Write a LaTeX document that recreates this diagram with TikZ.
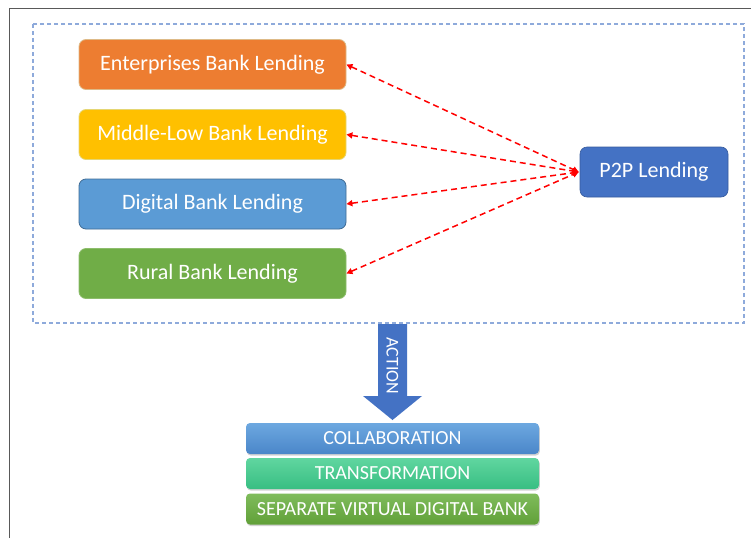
\documentclass[tikz,border=0pt]{standalone}
\usepackage{fontspec}
\setmainfont{Carlito}
\usetikzlibrary{arrows.meta,shadows}
\definecolor{cOrange}{HTML}{ED7D31}
\definecolor{cGold}{HTML}{FFC000}
\definecolor{cBlue}{HTML}{5B9BD5}
\definecolor{cGreen}{HTML}{70AD47}
\definecolor{cDark}{HTML}{4472C4}
\definecolor{cDash}{HTML}{8EAADB}
\definecolor{colTop}{HTML}{6DA8E0}
\definecolor{colBot}{HTML}{4A86C9}
\definecolor{traTop}{HTML}{60D6A0}
\definecolor{traBot}{HTML}{38BE82}
\definecolor{sepTop}{HTML}{80BC5C}
\definecolor{sepBot}{HTML}{60A038}
\tikzset{
  lend/.style={draw=#1!70!cGreen!60!white, line width=0.8pt, fill=#1, rounded corners=7pt,
    minimum width=267pt, minimum height=50pt, text=white, font=\fontsize{22}{26}\selectfont, inner sep=0pt},
  pp/.style={draw=cDark!80!black, line width=0.6pt, fill=cDark, rounded corners=7pt,
    minimum width=148pt, minimum height=50pt, text=white, font=\fontsize{22}{26}\selectfont, inner sep=0pt},
  act/.style={rounded corners=4pt, minimum width=293pt, minimum height=31pt, text=white,
    font=\fontsize{20}{24}\selectfont, inner sep=0pt, drop shadow={shadow xshift=0.8pt, shadow yshift=-1.6pt, opacity=0.35}},
  link/.style={red, line width=1.5pt, dash pattern=on 6pt off 4pt, {Triangle[length=6pt,width=6pt]}-{Triangle[length=6pt,width=6pt]}},
}
\begin{document}
\begin{tikzpicture}[x=1pt,y=-1pt]
\useasboundingbox (0,0) rectangle (751,538);
\fill[white] (0,0) rectangle (751,538);
% outer frame
\draw[gray!70!black, line width=1pt] (9,538) -- (9,8) -- (751,8);
% dashed frame
\draw[cDash, line width=1.1pt, dash pattern=on 4pt off 3pt] (33,24) rectangle (744,323);
% lending boxes
\node[lend=cOrange] (ent) at (212.5,64.5) {Enterprises Bank Lending};
\node[lend=cGold] (mid) at (212.5,134.5) {Middle-Low Bank Lending};
\node[lend=cBlue, draw=cBlue!70!black] (dig) at (212.5,204) {Digital Bank Lending};
\node[lend=cGreen, draw=cGreen!80!white] (rur) at (212.5,273.5) {Rural Bank Lending};
\node[pp] (p2p) at (654,172) {P2P Lending};
\coordinate (hub) at ([xshift=-1pt]p2p.west);
\draw[link] (ent.east) -- (hub);
\draw[link] (mid.east) -- (hub);
\draw[link] (dig.east) -- (hub);
\draw[link] (rur.east) -- (hub);
% ACTION arrow
\fill[cDark] (378,324) -- (407,324) -- (407,396) -- (422,396) -- (392.5,420) -- (363,396) -- (378,396) -- cycle;
\node[rotate=-90, text=white, font=\fontsize{18}{21}\selectfont, inner sep=0pt] (action) at (392.5,366) {ACTION};
% result boxes
\node[act, top color=colTop, bottom color=colBot] (col) at (392.5,438.5) {COLLABORATION};
\node[act, top color=traTop, bottom color=traBot] (tra) at (392.5,473.5) {TRANSFORMATION};
\node[act, top color=sepTop, bottom color=sepBot] (sep) at (392.5,509) {SEPARATE VIRTUAL DIGITAL BANK};
\end{tikzpicture}
\end{document}
